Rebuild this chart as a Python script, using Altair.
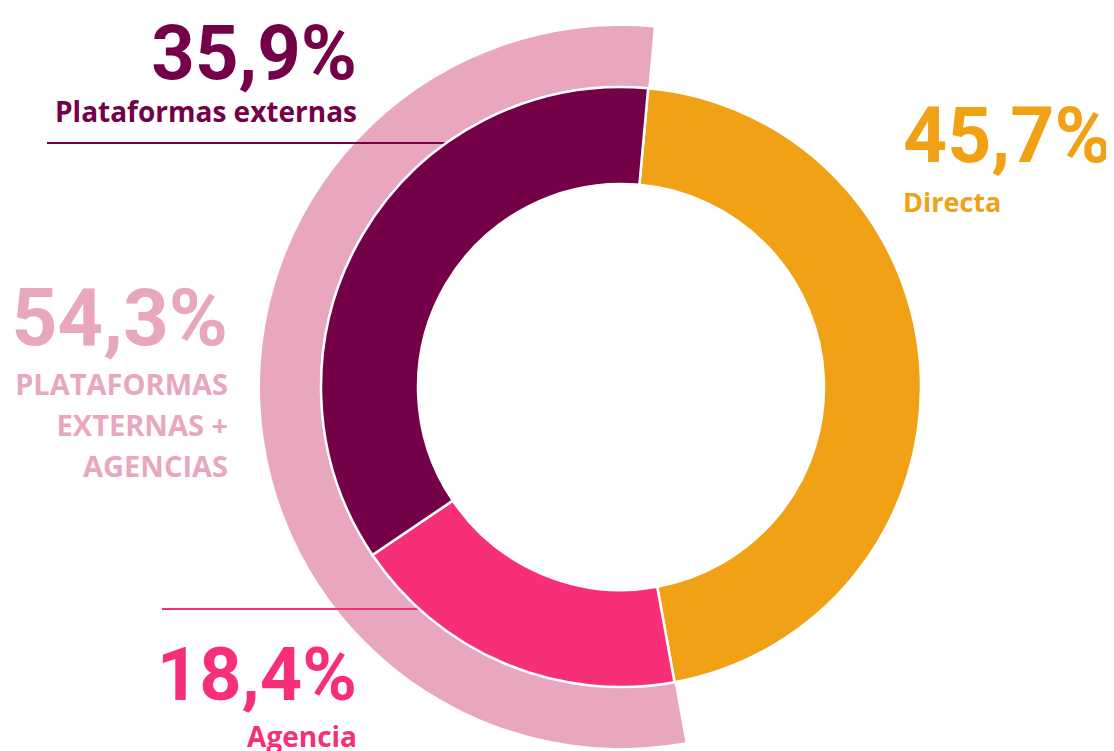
import math
import altair as alt
import pandas as pd

# ---- data ----
categories = ["Directa", "Agencia", "Plataformas externas"]
values = [45.7, 18.4, 35.9]
colors = ["#F0A116", "#F72F78", "#740047"]
outer_name = "PLATAFORMAS\nEXTERNAS +\nAGENCIAS"
outer_value = 54.3
outer_color = "#E9A7BF"


def pct(v):
    return f"{v:.1f}".replace(".", ",") + "%"


# derived tables
ends = pd.Series(values).cumsum()
inner_df = pd.DataFrame({
    "cat": categories,
    "value": values,
    "start": ends - pd.Series(values),
    "end": ends,
})
outer_df = pd.DataFrame({"cat": ["outer"], "start": [100 - outer_value], "end": [100.0]})

start_angle = math.radians(5.2)
theta_scale = alt.Scale(domain=[0, 100], range=[start_angle, start_angle + 2 * math.pi])

CX, CY = 613, 379

outer = alt.Chart(outer_df).mark_arc(radius=361, radius2=301, color=outer_color).encode(
    theta=alt.Theta("start:Q", scale=theta_scale),
    theta2="end:Q",
    x=alt.value(CX),
    y=alt.value(CY),
)

inner = alt.Chart(inner_df).mark_arc(radius=300, radius2=203, stroke="white", strokeWidth=2.5).encode(
    theta=alt.Theta("start:Q", scale=theta_scale),
    theta2="end:Q",
    color=alt.Color("cat:N", scale=alt.Scale(domain=categories, range=colors), legend=None),
    x=alt.value(CX),
    y=alt.value(CY),
)

line_df = pd.DataFrame({"k": [0]})
rule_plat = alt.Chart(line_df).mark_rule(color=colors[2], strokeWidth=2).encode(
    x=alt.value(39), x2=alt.value(440), y=alt.value(135)
)
rule_ag = alt.Chart(line_df).mark_rule(color=colors[1], strokeWidth=2).encode(
    x=alt.value(154), x2=alt.value(412), y=alt.value(601)
)

BIG = "Roboto, sans-serif"
SMALL = "Open Sans, Lato, sans-serif"


def text_layer(txt, x, y, size, color, font, align, line_height=None):
    df = pd.DataFrame({"t": [txt]})
    kw = dict(align=align, baseline="alphabetic", font=font, fontSize=size,
              fontWeight="bold", color=color)
    if line_height is not None:
        kw["lineBreak"] = "\n"
        kw["lineHeight"] = line_height
    return alt.Chart(df).mark_text(**kw).encode(
        text="t:N", x=alt.value(x), y=alt.value(y)
    )


texts = [
    text_layer(pct(values[2]), 349, 71, 76, colors[2], BIG, "right"),
    text_layer(categories[2], 349, 114, 28, colors[2], SMALL, "right"),
    text_layer(pct(values[0]), 895, 154, 77, colors[0], BIG, "left"),
    text_layer(categories[0], 895, 204, 27, colors[0], SMALL, "left"),
    text_layer(pct(outer_value), 220, 337, 80, outer_color, BIG, "right"),
    text_layer(outer_name, 220, 387, 29, outer_color, SMALL, "right", line_height=41),
    text_layer(pct(values[1]), 349, 692, 74, colors[1], BIG, "right"),
    text_layer(categories[1], 349, 739, 28, colors[1], SMALL, "right"),
]

chart = alt.layer(outer, rule_plat, rule_ag, inner, *texts).properties(
    width=1098, height=743, padding=0, autosize="none"
).configure_view(stroke=None)

chart.save("out.html", embed_options={"renderer": "svg", "actions": False})
